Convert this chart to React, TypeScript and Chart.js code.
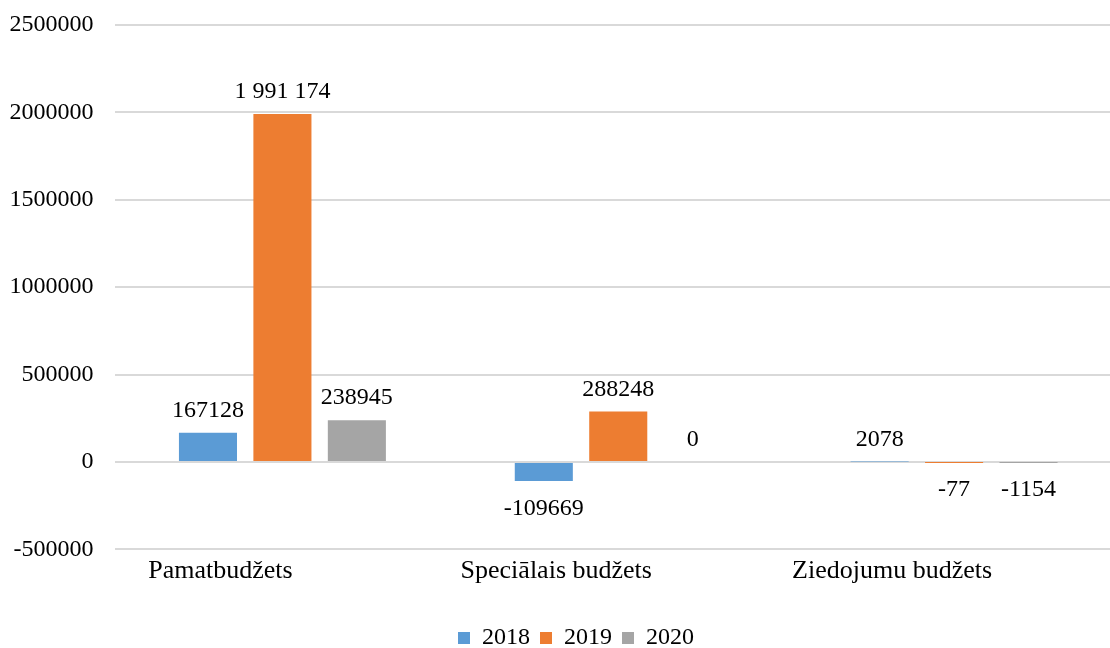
import React, { useEffect, useRef } from "react";
import { Chart, registerables } from "chart.js";

Chart.register(...registerables);

const categories = ["Pamatbudžets", "Speciālais budžets", "Ziedojumu budžets"];
const years = ["2018", "2019", "2020"];
const values2018 = [167128, -109669, 2078];
const values2019 = [1991174, 288248, -77];
const values2020 = [238945, 0, -1154];
const colors = ["#5B9BD5", "#ED7D31", "#A5A5A5"];
const yMin = -500000;
const yMax = 2500000;
const yStep = 500000;

const FONT = "'Liberation Serif', 'Times New Roman', serif";

function formatLabel(v: number): string {
  if (Math.abs(v) >= 1000000) {
    const s = Math.abs(v).toString().replace(/\B(?=(\d{3})+(?!\d))/g, " ");
    return (v < 0 ? "-" : "") + s;
  }
  return String(v);
}

const dataLabelPlugin = {
  id: "dataLabels",
  afterDatasetsDraw(chart: any) {
    const ctx = chart.ctx;
    ctx.save();
    ctx.font = `24px ${FONT}`;
    ctx.fillStyle = "#000";
    ctx.textAlign = "center";
    ctx.textBaseline = "alphabetic";
    chart.data.datasets.forEach((ds: any, di: number) => {
      const meta = chart.getDatasetMeta(di);
      meta.data.forEach((el: any, i: number) => {
        const v = ds.data[i] as number;
        const y = v >= 0 ? el.y - 16 : el.y + 34;
        ctx.fillText(formatLabel(v), el.x, y);
      });
    });
    ctx.restore();
  },
};

const legendShiftPlugin = {
  id: "legendShift",
  afterLayout(chart: any) {
    if (chart.legend) {
      chart.legend.left += 15;
      chart.legend.right += 15;
    }
  },
};

export default function App() {
  const ref = useRef<HTMLCanvasElement | null>(null);

  useEffect(() => {
    if (!ref.current) return;
    const series = [values2018, values2019, values2020];
    const chart = new Chart(ref.current, {
      type: "bar",
      data: {
        labels: categories,
        datasets: years.map((y, i) => ({
          label: y,
          data: series[i],
          backgroundColor: colors[i],
          borderWidth: 0,
          categoryPercentage: 0.665,
          barPercentage: 0.78,
        })),
      },
      options: {
        responsive: false,
        animation: false,
        events: [],
        layout: { padding: { top: 25, left: 0, right: 0, bottom: 0 } },
        plugins: {
          tooltip: { enabled: false },
          legend: {
            position: "bottom",
            labels: {
              boxWidth: 12,
              boxHeight: 12,
              padding: 10,
              color: "#000",
              font: { family: FONT, size: 24 },
            },
          },
        },
        scales: {
          x: {
            grid: { display: false, drawTicks: false },
            border: { display: false },
            ticks: {
              color: "#000",
              font: { family: FONT, size: 26 },
              padding: 6,
              labelOffset: -62,
              maxRotation: 0,
            },
            afterFit(scale: any) {
              scale.height = 66.7;
            },
          },
          y: {
            min: yMin,
            max: yMax,
            grid: { color: "#d9d9d9", lineWidth: 2, drawTicks: false },
            border: { display: false },
            ticks: {
              stepSize: yStep,
              color: "#000",
              font: { family: FONT, size: 24 },
              padding: 21,
              callback: (v: any) => String(v),
            },
            afterFit(scale: any) {
              scale.width = 114.5;
              scale.paddingTop = 0;
              scale.paddingBottom = 0;
            },
          },
        },
      },
      plugins: [dataLabelPlugin, legendShiftPlugin],
    });
    return () => chart.destroy();
  }, []);

  return (
    <div
      style={{
        position: "fixed",
        left: 0,
        top: 0,
        width: 1110,
        height: 648,
        overflow: "hidden",
        background: "#fff",
      }}
    >
      <canvas ref={ref} width={1122} height={660} style={{ display: "block" }} />
    </div>
  );
}
